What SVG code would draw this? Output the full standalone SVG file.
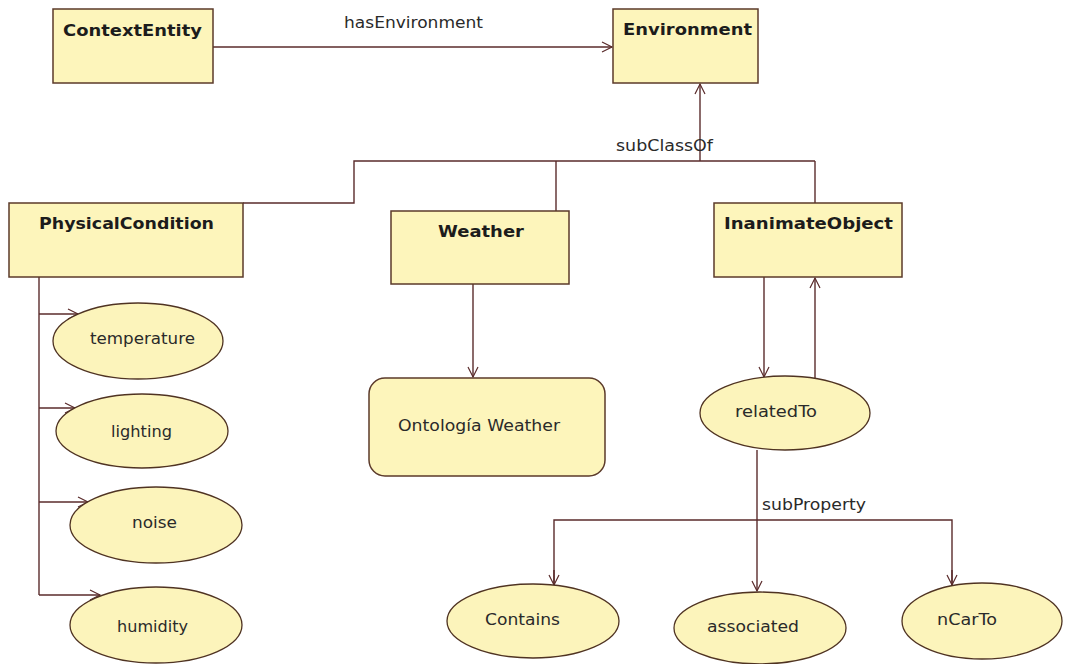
<svg xmlns="http://www.w3.org/2000/svg" width="1065" height="664" viewBox="0 0 1065 664">
  <defs>
    <style>
      .cls { fill: #fdf5bb; stroke: #5b3a2a; stroke-width: 1.5; }
      .prop { fill: #fcf4bb; stroke: #4f3322; stroke-width: 1.3; }
      .title { font-family: "DejaVu Sans", Verdana, sans-serif; font-weight: bold; font-size: 15px; fill: #1c1c1c; }
      .lbl { font-family: "DejaVu Sans", Verdana, sans-serif; font-size: 15px; fill: #2a2a2a; }
      .edge { fill: none; stroke: #5a2b2b; stroke-width: 1.4; }
    </style>
    <marker id="open" markerUnits="userSpaceOnUse" markerWidth="14" markerHeight="14" refX="11" refY="6" orient="auto">
      <path d="M1,1 L11,6 L1,11" fill="none" stroke="#5a2b2b" stroke-width="1.2"/>
    </marker>
  </defs>
  <rect width="1065" height="664" fill="#ffffff"/>

  <!-- connectors -->
  <g id="connectors">
    <path class="edge" d="M213,47 L612,47" marker-end="url(#open)"/>
    <text class="lbl" x="344" y="28" textLength="139" lengthAdjust="spacingAndGlyphs">hasEnvironment</text>

    <!-- subClassOf tree -->
    <path class="edge" d="M700,161 L700,84" marker-end="url(#open)"/>
    <path class="edge" d="M243,203 L354,203 L354,161 L815,161"/>
    <path class="edge" d="M556,161 L556,211"/>
    <path class="edge" d="M815,161 L815,203"/>
    <text class="lbl" x="616" y="151" textLength="97" lengthAdjust="spacingAndGlyphs">subClassOf</text>

    <!-- PhysicalCondition attributes -->
    <path class="edge" d="M39,277 L39,595"/>
    <path class="edge" d="M39,314 L78,314" marker-end="url(#open)"/>
    <path class="edge" d="M39,408 L75,408" marker-end="url(#open)"/>
    <path class="edge" d="M39,502 L88,502" marker-end="url(#open)"/>
    <path class="edge" d="M39,595 L100,595" marker-end="url(#open)"/>

    <!-- Weather ontology -->
    <path class="edge" d="M473,284 L473,377" marker-end="url(#open)"/>

    <!-- relatedTo -->
    <path class="edge" d="M764,277 L764,377" marker-end="url(#open)"/>
    <path class="edge" d="M815,378 L815,278" marker-end="url(#open)"/>

    <!-- subProperty tree -->
    <path class="edge" d="M757,450 L757,591" marker-end="url(#open)"/>
    <path class="edge" d="M554,585 L554,520 L952,520 L952,585"/>
    <path class="edge" d="M554,570 L554,585" marker-end="url(#open)"/>
    <path class="edge" d="M952,570 L952,585" marker-end="url(#open)"/>
    <text class="lbl" x="762" y="510" textLength="104" lengthAdjust="spacingAndGlyphs">subProperty</text>
  </g>

  <!-- classes -->
  <g id="ContextEntity">
    <rect class="cls" x="53" y="9" width="160" height="74"/>
    <text class="title" x="63" y="36" textLength="139" lengthAdjust="spacingAndGlyphs">ContextEntity</text>
  </g>
  <g id="Environment">
    <rect class="cls" x="613" y="9" width="145" height="74"/>
    <text class="title" x="623" y="35" textLength="129" lengthAdjust="spacingAndGlyphs">Environment</text>
  </g>
  <g id="PhysicalCondition">
    <rect class="cls" x="9" y="203" width="234" height="74"/>
    <text class="title" x="39" y="229" textLength="175" lengthAdjust="spacingAndGlyphs">PhysicalCondition</text>
  </g>
  <g id="Weather">
    <rect class="cls" x="391" y="211" width="178" height="73"/>
    <text class="title" x="438" y="237" textLength="86" lengthAdjust="spacingAndGlyphs">Weather</text>
  </g>
  <g id="InanimateObject">
    <rect class="cls" x="714" y="203" width="188" height="74"/>
    <text class="title" x="724" y="229" textLength="169" lengthAdjust="spacingAndGlyphs">InanimateObject</text>
  </g>
  <g id="OntologiaWeather">
    <rect class="cls" x="369" y="378" width="236" height="98" rx="16" ry="16"/>
    <text class="lbl" x="398" y="431" textLength="162" lengthAdjust="spacingAndGlyphs">Ontología Weather</text>
  </g>

  <!-- properties -->
  <g id="temperature">
    <ellipse class="prop" cx="138" cy="341" rx="85" ry="38"/>
    <text class="lbl" x="90" y="344" textLength="105" lengthAdjust="spacingAndGlyphs">temperature</text>
  </g>
  <g id="lighting">
    <ellipse class="prop" cx="142" cy="431" rx="86" ry="37"/>
    <text class="lbl" x="111" y="437" textLength="61" lengthAdjust="spacingAndGlyphs">lighting</text>
  </g>
  <g id="noise">
    <ellipse class="prop" cx="156" cy="525" rx="86" ry="38"/>
    <text class="lbl" x="132" y="528" textLength="45" lengthAdjust="spacingAndGlyphs">noise</text>
  </g>
  <g id="humidity">
    <ellipse class="prop" cx="156" cy="625" rx="86" ry="38"/>
    <text class="lbl" x="117" y="632" textLength="71" lengthAdjust="spacingAndGlyphs">humidity</text>
  </g>
  <g id="relatedTo">
    <ellipse class="prop" cx="785" cy="413" rx="85" ry="37"/>
    <text class="lbl" x="735" y="417" textLength="82" lengthAdjust="spacingAndGlyphs">relatedTo</text>
  </g>
  <g id="Contains">
    <ellipse class="prop" cx="533" cy="621" rx="86" ry="37"/>
    <text class="lbl" x="485" y="625" textLength="75" lengthAdjust="spacingAndGlyphs">Contains</text>
  </g>
  <g id="associated">
    <ellipse class="prop" cx="760" cy="628" rx="86" ry="36"/>
    <text class="lbl" x="707" y="632" textLength="92" lengthAdjust="spacingAndGlyphs">associated</text>
  </g>
  <g id="nCarTo">
    <ellipse class="prop" cx="982" cy="621" rx="80" ry="38"/>
    <text class="lbl" x="937" y="625" textLength="60" lengthAdjust="spacingAndGlyphs">nCarTo</text>
  </g>
</svg>
